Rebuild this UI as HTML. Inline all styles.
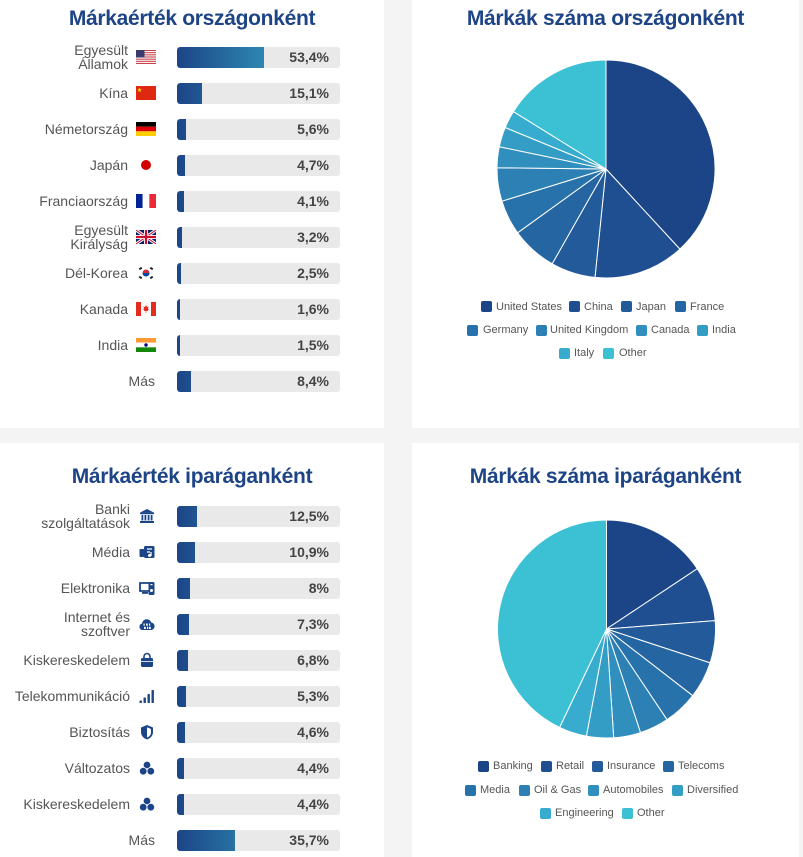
<!DOCTYPE html>
<html><head><meta charset="utf-8">
<style>
*{margin:0;padding:0;box-sizing:border-box}
html,body{width:803px;height:857px;overflow:hidden;background:#f4f4f4}
body{position:relative;font-family:"Liberation Sans",Arial,sans-serif}
.p{position:absolute;background:#fff}
.t{position:absolute;font:bold 21px/24px "Liberation Sans",Arial,sans-serif;color:#1d4486;letter-spacing:-0.3px;text-align:center;white-space:nowrap}
.r{position:absolute;left:0;width:384px;height:36px}
.lab{position:absolute;top:0;height:36px;display:flex;align-items:center;justify-content:flex-end;text-align:right;font:14px/14px "Liberation Sans",Arial,sans-serif;color:#555;white-space:nowrap}
.fl{position:absolute;left:136px;top:11px;width:20px;height:14px}
.ic{position:absolute;left:139px;top:10px;width:16px;height:16px}
.bar{position:absolute;left:177px;top:8px;width:163px;height:21px;background:#e9e9e9;border-radius:3px;overflow:hidden}
.fill{height:21px;background:linear-gradient(90deg,#1c4587,#3cc0d4);background-size:163px 21px;border-radius:3px 0 0 3px}
.pct{position:absolute;right:11px;top:0;font:bold 14px/21px "Liberation Sans",Arial,sans-serif;color:#444}
.sq{position:absolute;width:11px;height:11px;border-radius:2px}
.lt{position:absolute;font:11px/14px "Liberation Sans",Arial,sans-serif;color:#555;white-space:nowrap}
</style></head><body>

<div class="p" style="left:0;top:0;width:384px;height:428px"></div>
<div class="p" style="left:412px;top:0;width:387px;height:428px"></div>
<div class="p" style="left:0;top:443px;width:384px;height:414px"></div>
<div class="p" style="left:412px;top:443px;width:387px;height:414px"></div>

<div class="t" style="left:0;width:384px;top:7px">Márkaérték országonként</div>
<div class="t" style="left:412px;width:387px;top:7px">Márkák száma országonként</div>
<div class="t" style="left:0;width:384px;top:465px">Márkaérték iparáganként</div>
<div class="t" style="left:412px;width:387px;top:465px">Márkák száma iparáganként</div>

<!-- Top-left rows -->
<div class="r" style="top:39px"><div class="lab" style="right:256px">Egyesült<br>Államok</div>
<svg class="fl" viewBox="0 0 20 14"><rect width="20" height="14" fill="#fff"/><g fill="#c8414d"><rect y="0" width="20" height="1.08"/><rect y="2.15" width="20" height="1.08"/><rect y="4.31" width="20" height="1.08"/><rect y="6.46" width="20" height="1.08"/><rect y="8.62" width="20" height="1.08"/><rect y="10.77" width="20" height="1.08"/><rect y="12.92" width="20" height="1.08"/></g><rect width="8.5" height="7.5" fill="#3c3b6e"/></svg>
<div class="bar"><div class="fill" style="width:87px"></div><div class="pct">53,4%</div></div></div>

<div class="r" style="top:75px"><div class="lab" style="right:256px">Kína</div>
<svg class="fl" viewBox="0 0 20 14"><rect width="20" height="14" fill="#de2910"/><polygon points="3.5,1.5 4.1,3.2 5.9,3.2 4.5,4.3 5,6 3.5,5 2,6 2.5,4.3 1.1,3.2 2.9,3.2" fill="#ffde00"/></svg>
<div class="bar"><div class="fill" style="width:24.6px"></div><div class="pct">15,1%</div></div></div>

<div class="r" style="top:111px"><div class="lab" style="right:256px">Németország</div>
<svg class="fl" viewBox="0 0 20 14"><rect width="20" height="4.67" fill="#000"/><rect y="4.67" width="20" height="4.67" fill="#dd0000"/><rect y="9.33" width="20" height="4.67" fill="#ffce00"/></svg>
<div class="bar"><div class="fill" style="width:9.1px"></div><div class="pct">5,6%</div></div></div>

<div class="r" style="top:147px"><div class="lab" style="right:256px">Japán</div>
<svg class="fl" viewBox="0 0 20 14"><circle cx="10" cy="7" r="5" fill="#d30000"/></svg>
<div class="bar"><div class="fill" style="width:7.7px"></div><div class="pct">4,7%</div></div></div>

<div class="r" style="top:183px"><div class="lab" style="right:256px">Franciaország</div>
<svg class="fl" viewBox="0 0 20 14"><rect width="6.67" height="14" fill="#002395"/><rect x="6.67" width="6.67" height="14" fill="#fff"/><rect x="13.33" width="6.67" height="14" fill="#ed2939"/></svg>
<div class="bar"><div class="fill" style="width:6.7px"></div><div class="pct">4,1%</div></div></div>

<div class="r" style="top:219px"><div class="lab" style="right:256px">Egyesült<br>Királyság</div>
<svg class="fl" viewBox="0 0 20 14"><rect width="20" height="14" fill="#012169"/><path d="M0,0L20,14M20,0L0,14" stroke="#fff" stroke-width="3"/><path d="M0,0L20,14M20,0L0,14" stroke="#c8102e" stroke-width="1"/><path d="M10,0V14M0,7H20" stroke="#fff" stroke-width="4"/><path d="M10,0V14M0,7H20" stroke="#c8102e" stroke-width="2.2"/></svg>
<div class="bar"><div class="fill" style="width:5.2px"></div><div class="pct">3,2%</div></div></div>

<div class="r" style="top:255px"><div class="lab" style="right:256px">Dél-Korea</div>
<svg class="fl" viewBox="0 0 20 14"><rect width="20" height="14" fill="#fff"/><path d="M6.5,7A3.5,3.5 0 0 1 13.5,7Z" fill="#cd2e3a"/><path d="M6.5,7A3.5,3.5 0 0 0 13.5,7Z" fill="#0047a0"/><g fill="#222"><rect x="3" y="1.5" width="3" height="2" transform="rotate(-35 4.5 2.5)"/><rect x="14" y="1.5" width="3" height="2" transform="rotate(35 15.5 2.5)"/><rect x="3" y="10.5" width="3" height="2" transform="rotate(35 4.5 11.5)"/><rect x="14" y="10.5" width="3" height="2" transform="rotate(-35 15.5 11.5)"/></g></svg>
<div class="bar"><div class="fill" style="width:4.1px"></div><div class="pct">2,5%</div></div></div>

<div class="r" style="top:291px"><div class="lab" style="right:256px">Kanada</div>
<svg class="fl" viewBox="0 0 20 14"><rect width="20" height="14" fill="#fff"/><rect width="5" height="14" fill="#e52b1e"/><rect x="15" width="5" height="14" fill="#e52b1e"/><polygon points="10,3 11,5 12.5,4.5 12,7 13,7 11.5,9 10.3,9 10.3,11 9.7,11 9.7,9 8.5,9 7,7 8,7 7.5,4.5 9,5" fill="#e52b1e"/></svg>
<div class="bar"><div class="fill" style="width:3px"></div><div class="pct">1,6%</div></div></div>

<div class="r" style="top:327px"><div class="lab" style="right:256px">India</div>
<svg class="fl" viewBox="0 0 20 14"><rect width="20" height="4.67" fill="#ff9933"/><rect y="4.67" width="20" height="4.67" fill="#fff"/><rect y="9.33" width="20" height="4.67" fill="#138808"/><circle cx="10" cy="7" r="1.7" fill="#000080"/></svg>
<div class="bar"><div class="fill" style="width:3px"></div><div class="pct">1,5%</div></div></div>

<div class="r" style="top:363px"><div class="lab" style="right:229px">Más</div>
<div class="bar"><div class="fill" style="width:13.7px"></div><div class="pct">8,4%</div></div></div>

<!-- Bottom-left rows -->
<div class="r" style="top:498px"><div class="lab" style="right:254px">Banki<br>szolgáltatások</div>
<svg class="ic" viewBox="0 0 16 16" fill="#1c4587"><polygon points="8,1 15,4.6 1,4.6"/><rect x="1" y="4.6" width="14" height="1.6"/><rect x="2.5" y="7" width="1.8" height="5.5"/><rect x="5.5" y="7" width="1.8" height="5.5"/><rect x="8.7" y="7" width="1.8" height="5.5"/><rect x="11.7" y="7" width="1.8" height="5.5"/><rect x="1" y="13" width="14" height="2"/></svg>
<div class="bar"><div class="fill" style="width:20.4px"></div><div class="pct">12,5%</div></div></div>

<div class="r" style="top:534px"><div class="lab" style="right:254px">Média</div>
<svg class="ic" viewBox="0 0 16 16" fill="#1c4587"><rect x="0.5" y="5" width="5" height="8" rx="1"/><rect x="5" y="2" width="10.5" height="12" rx="1.5"/><path d="M8,5H13M8,8H11M12,8V12" stroke="#fff" stroke-width="1.3" fill="none"/><circle cx="10.5" cy="11.5" r="1.5" fill="#fff"/></svg>
<div class="bar"><div class="fill" style="width:17.8px"></div><div class="pct">10,9%</div></div></div>

<div class="r" style="top:570px"><div class="lab" style="right:254px">Elektronika</div>
<svg class="ic" viewBox="0 0 16 16" fill="#1c4587"><path d="M1,3H11V11H1Z" fill="none" stroke="#1c4587" stroke-width="1.8"/><rect x="3" y="12" width="6" height="1.8"/><rect x="9.5" y="2" width="6" height="13" rx="1.2"/><circle cx="12.5" cy="10.5" r="1.5" fill="#fff"/><rect x="11.5" y="4" width="2" height="1.2" fill="#fff"/></svg>
<div class="bar"><div class="fill" style="width:13px"></div><div class="pct">8%</div></div></div>

<div class="r" style="top:606px"><div class="lab" style="right:254px">Internet és<br>szoftver</div>
<svg class="ic" viewBox="0 0 16 16" fill="#1c4587"><path d="M3.5,14A3.3,3.3 0 0 1 3,7.5A4.8,4.8 0 0 1 12.3,6.5A3.8,3.8 0 0 1 12.5,14Z"/><g fill="#fff"><rect x="4.5" y="7.5" width="1.2" height="2.2"/><rect x="7" y="7.5" width="1.8" height="2.2"/><rect x="10" y="7.5" width="1.2" height="2.2"/><rect x="5" y="10.8" width="1.8" height="2.2"/><rect x="8" y="10.8" width="1.2" height="2.2"/><rect x="10" y="10.8" width="1.8" height="2.2"/></g></svg>
<div class="bar"><div class="fill" style="width:11.9px"></div><div class="pct">7,3%</div></div></div>

<div class="r" style="top:642px"><div class="lab" style="right:254px">Kiskereskedelem</div>
<svg class="ic" viewBox="0 0 16 16" fill="#1c4587"><path d="M5,6V4.5A3,3 0 0 1 11,4.5V6" fill="none" stroke="#1c4587" stroke-width="1.6"/><rect x="2" y="6" width="12" height="9" rx="1.5"/><rect x="2" y="9" width="12" height="0.8" fill="#fff"/></svg>
<div class="bar"><div class="fill" style="width:11.1px"></div><div class="pct">6,8%</div></div></div>

<div class="r" style="top:678px"><div class="lab" style="right:254px">Telekommunikáció</div>
<svg class="ic" viewBox="0 0 16 16" fill="#1c4587"><rect x="0.5" y="12.5" width="2.4" height="2.5" rx="0.6"/><rect x="4.5" y="9.5" width="2.4" height="5.5" rx="0.6"/><rect x="8.5" y="6" width="2.4" height="9" rx="0.6"/><rect x="12.5" y="2" width="2.4" height="13" rx="0.6"/></svg>
<div class="bar"><div class="fill" style="width:8.6px"></div><div class="pct">5,3%</div></div></div>

<div class="r" style="top:714px"><div class="lab" style="right:254px">Biztosítás</div>
<svg class="ic" viewBox="0 0 16 16" fill="#1c4587"><path d="M8,1L14,3.5V8C14,12 11,14.5 8,15.5C5,14.5 2,12 2,8V3.5Z"/><path d="M8,3.3L12,5V8.2C12,11 10,12.8 8,13.5Z" fill="#fff"/></svg>
<div class="bar"><div class="fill" style="width:7.5px"></div><div class="pct">4,6%</div></div></div>

<div class="r" style="top:750px"><div class="lab" style="right:254px">Változatos</div>
<svg class="ic" viewBox="0 0 16 16" fill="#1c4587" stroke="#fff" stroke-width="0.8"><circle cx="8" cy="5" r="3.8"/><circle cx="4.2" cy="11.2" r="3.8"/><circle cx="11.8" cy="11.2" r="3.8"/></svg>
<div class="bar"><div class="fill" style="width:7.2px"></div><div class="pct">4,4%</div></div></div>

<div class="r" style="top:786px"><div class="lab" style="right:254px">Kiskereskedelem</div>
<svg class="ic" viewBox="0 0 16 16" fill="#1c4587" stroke="#fff" stroke-width="0.8"><circle cx="8" cy="5" r="3.8"/><circle cx="4.2" cy="11.2" r="3.8"/><circle cx="11.8" cy="11.2" r="3.8"/></svg>
<div class="bar"><div class="fill" style="width:7.2px"></div><div class="pct">4,4%</div></div></div>

<div class="r" style="top:822px"><div class="lab" style="right:229px">Más</div>
<div class="bar"><div class="fill" style="width:58.2px"></div><div class="pct">35,7%</div></div></div>

<!-- Pies -->
<svg style="position:absolute;left:0;top:0" width="803" height="857" viewBox="0 0 803 857">
<g stroke="#fff" stroke-width="1" stroke-linejoin="round">
<path d="M606,169L606,60A109,109 0 0 1 679.9,249.1Z" fill="#1c4587"/>
<path d="M606,169L679.9,249.1A109,109 0 0 1 595,277.4Z" fill="#1f4f91"/>
<path d="M606,169L595,277.4A109,109 0 0 1 552.2,263.8Z" fill="#225a9a"/>
<path d="M606,169L552.2,263.8A109,109 0 0 1 517.6,232.8Z" fill="#2566a2"/>
<path d="M606,169L517.6,232.8A109,109 0 0 1 501.9,201.2Z" fill="#2872ab"/>
<path d="M606,169L501.9,201.2A109,109 0 0 1 497,167.7Z" fill="#2c80b4"/>
<path d="M606,169L497,167.7A109,109 0 0 1 499.3,146.7Z" fill="#308fbd"/>
<path d="M606,169L499.3,146.7A109,109 0 0 1 505.2,127.5Z" fill="#339dc5"/>
<path d="M606,169L505.2,127.5A109,109 0 0 1 513.4,111.6Z" fill="#37acce"/>
<path d="M606,169L513.4,111.6A109,109 0 0 1 606,60Z" fill="#3cc0d4"/>

<path d="M606.5,629L606.5,520A109,109 0 0 1 697.3,568.7Z" fill="#1c4587"/>
<path d="M606.5,629L697.3,568.7A109,109 0 0 1 715.2,620.6Z" fill="#1f4f91"/>
<path d="M606.5,629L715.2,620.6A109,109 0 0 1 710.1,662.9Z" fill="#225a9a"/>
<path d="M606.5,629L710.1,662.9A109,109 0 0 1 692.7,695.7Z" fill="#2566a2"/>
<path d="M606.5,629L692.7,695.7A109,109 0 0 1 667,719.7Z" fill="#2872ab"/>
<path d="M606.5,629L667,719.7A109,109 0 0 1 640.5,732.6Z" fill="#2c80b4"/>
<path d="M606.5,629L640.5,732.6A109,109 0 0 1 613.7,737.8Z" fill="#308fbd"/>
<path d="M606.5,629L613.7,737.8A109,109 0 0 1 586.4,736.1Z" fill="#339dc5"/>
<path d="M606.5,629L586.4,736.1A109,109 0 0 1 559.6,727.4Z" fill="#37acce"/>
<path d="M606.5,629L559.6,727.4A109,109 0 0 1 606.5,520Z" fill="#3cc0d4"/>
</g>
</svg>

<!-- Top legend -->
<div class="sq" style="left:481px;top:301px;background:#1c4587"></div><div class="lt" style="left:496px;top:300px">United States</div>
<div class="sq" style="left:569px;top:301px;background:#1f4f91"></div><div class="lt" style="left:584px;top:300px">China</div>
<div class="sq" style="left:621px;top:301px;background:#225a9a"></div><div class="lt" style="left:636px;top:300px">Japan</div>
<div class="sq" style="left:675px;top:301px;background:#2566a2"></div><div class="lt" style="left:690px;top:300px">France</div>
<div class="sq" style="left:467px;top:324.5px;background:#2872ab"></div><div class="lt" style="left:483px;top:323px">Germany</div>
<div class="sq" style="left:536px;top:324.5px;background:#2c80b4"></div><div class="lt" style="left:550px;top:323px">United Kingdom</div>
<div class="sq" style="left:636px;top:324.5px;background:#308fbd"></div><div class="lt" style="left:651px;top:323px">Canada</div>
<div class="sq" style="left:697px;top:324.5px;background:#339dc5"></div><div class="lt" style="left:712px;top:323px">India</div>
<div class="sq" style="left:559px;top:347.5px;background:#37acce"></div><div class="lt" style="left:574px;top:346px">Italy</div>
<div class="sq" style="left:603px;top:347.5px;background:#3cc0d4"></div><div class="lt" style="left:619px;top:346px">Other</div>

<!-- Bottom legend -->
<div class="sq" style="left:478px;top:760.5px;background:#1c4587"></div><div class="lt" style="left:493px;top:759px">Banking</div>
<div class="sq" style="left:541px;top:760.5px;background:#1f4f91"></div><div class="lt" style="left:556px;top:759px">Retail</div>
<div class="sq" style="left:592px;top:760.5px;background:#225a9a"></div><div class="lt" style="left:607px;top:759px">Insurance</div>
<div class="sq" style="left:663px;top:760.5px;background:#2566a2"></div><div class="lt" style="left:678px;top:759px">Telecoms</div>
<div class="sq" style="left:465px;top:784.5px;background:#2872ab"></div><div class="lt" style="left:480px;top:783px">Media</div>
<div class="sq" style="left:519px;top:784.5px;background:#2c80b4"></div><div class="lt" style="left:534px;top:783px">Oil &amp; Gas</div>
<div class="sq" style="left:588px;top:784.5px;background:#308fbd"></div><div class="lt" style="left:603px;top:783px">Automobiles</div>
<div class="sq" style="left:672px;top:784.5px;background:#339dc5"></div><div class="lt" style="left:687px;top:783px">Diversified</div>
<div class="sq" style="left:540px;top:807.5px;background:#37acce"></div><div class="lt" style="left:555px;top:806px">Engineering</div>
<div class="sq" style="left:622px;top:807.5px;background:#3cc0d4"></div><div class="lt" style="left:637px;top:806px">Other</div>

</body></html>
